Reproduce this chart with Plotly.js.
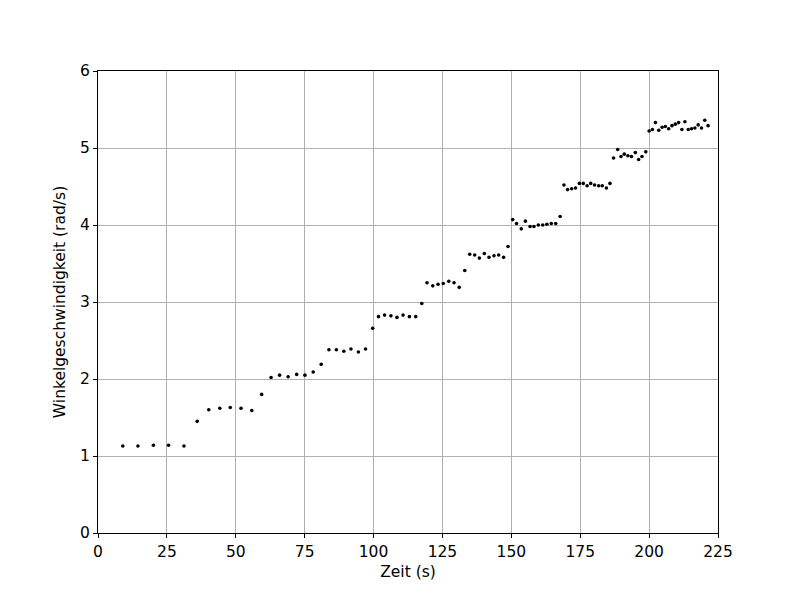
<!DOCTYPE html>
<html>
<head>
<meta charset="utf-8">
<script src="https://cdn.plot.ly/plotly-3.0.1.min.js"></script>
<style>html,body{margin:0;padding:0;background:#fff;}</style>
</head>
<body>
<div id="chart" style="width:799px;height:599px;"></div>
<script>
const zeit = [9.0, 14.5, 20.1, 25.6, 31.2, 36.0, 40.2, 44.2, 48.0, 51.9, 55.8, 59.4, 62.8, 65.9, 69.0, 72.1, 75.1, 78.1, 81.0, 83.8, 86.5, 89.2, 91.8, 94.5, 97.1, 99.7, 101.8, 104.0, 106.3, 108.5, 110.7, 113.0, 115.3, 117.5, 119.4, 121.5, 123.4, 125.3, 127.3, 129.2, 131.1, 133.1, 134.9, 136.7, 138.4, 140.2, 141.9, 143.7, 145.4, 147.2, 148.8, 150.5, 151.9, 153.6, 155.1, 156.8, 158.2, 159.8, 161.4, 162.9, 164.5, 166.1, 167.7, 169.1, 170.4, 171.9, 173.3, 174.7, 176.1, 177.5, 178.8, 180.2, 181.7, 183.0, 184.5, 185.8, 187.1, 188.6, 189.8, 191.0, 192.3, 193.6, 195.0, 196.2, 197.4, 198.8, 200.0, 201.2, 202.3, 203.5, 204.7, 205.9, 207.1, 208.3, 209.5, 210.7, 211.9, 213.0, 214.2, 215.4, 216.6, 217.8, 219.0, 220.2, 221.4];
const winkelgeschwindigkeit = [1.13, 1.13, 1.14, 1.14, 1.13, 1.45, 1.60, 1.62, 1.63, 1.62, 1.59, 1.80, 2.02, 2.05, 2.03, 2.06, 2.05, 2.09, 2.19, 2.38, 2.38, 2.36, 2.39, 2.35, 2.39, 2.66, 2.81, 2.83, 2.82, 2.80, 2.83, 2.81, 2.81, 2.98, 3.25, 3.21, 3.23, 3.24, 3.27, 3.25, 3.19, 3.41, 3.62, 3.61, 3.57, 3.63, 3.58, 3.60, 3.61, 3.58, 3.72, 4.07, 4.02, 3.95, 4.05, 3.98, 3.98, 4.00, 4.00, 4.01, 4.02, 4.02, 4.11, 4.52, 4.46, 4.47, 4.48, 4.54, 4.54, 4.51, 4.54, 4.52, 4.51, 4.51, 4.48, 4.54, 4.87, 4.98, 4.89, 4.92, 4.90, 4.89, 4.94, 4.85, 4.89, 4.95, 5.22, 5.24, 5.33, 5.23, 5.27, 5.28, 5.25, 5.29, 5.31, 5.33, 5.24, 5.34, 5.24, 5.25, 5.26, 5.30, 5.26, 5.36, 5.29];
const xTicks = [0, 25, 50, 75, 100, 125, 150, 175, 200, 225];
const yTicks = [0, 1, 2, 3, 4, 5, 6];

const font = {family: 'DejaVu Sans, sans-serif', size: 15.5, color: '#000'};
const axisCommon = {
  showline: true, linecolor: '#000', linewidth: 1, mirror: true,
  ticks: 'outside', ticklen: 4, tickwidth: 1, tickcolor: '#000',
  showgrid: true, gridcolor: '#b0b0b0', gridwidth: 1,
  zeroline: false, tickfont: font
};

Plotly.newPlot('chart', [{
  x: zeit, y: winkelgeschwindigkeit, type: 'scatter', mode: 'markers',
  marker: {color: '#000', size: 3.6}
}], {
  width: 799, height: 599,
  margin: {l: 98, r: 81, t: 71, b: 66},
  paper_bgcolor: '#fff', plot_bgcolor: '#fff',
  showlegend: false,
  font: font,
  xaxis: Object.assign({}, axisCommon, {
    range: [0, 225], tickvals: xTicks, ticktext: xTicks.map(String),
    title: {text: 'Zeit (s)', font: font, standoff: 6}
  }),
  yaxis: Object.assign({}, axisCommon, {
    range: [0, 6], tickvals: yTicks, ticktext: yTicks.map(String),
    title: {text: 'Winkelgeschwindigkeit (rad/s)', font: font, standoff: 10}
  })
}, {displayModeBar: false, staticPlot: true});
</script>
</body>
</html>
